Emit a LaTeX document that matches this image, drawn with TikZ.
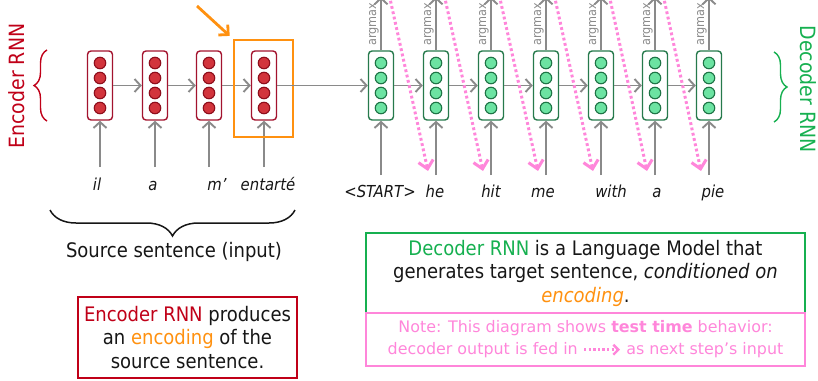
\documentclass[tikz,border=0pt]{standalone}
\usepackage{fontspec}
\setmainfont{DejaVu Sans Condensed}
\newfontfamily\notefont{DejaVu Sans}
\usetikzlibrary{arrows.meta,decorations.pathreplacing}

\definecolor{encred}{HTML}{C00018}
\definecolor{encborder}{HTML}{A3132E}
\definecolor{encdotf}{HTML}{D2343C}
\definecolor{encdotb}{HTML}{8E0E1C}
\definecolor{decgreen}{HTML}{16B050}
\definecolor{decborder}{HTML}{267A4C}
\definecolor{decdotf}{HTML}{6CE3A2}
\definecolor{decdotb}{HTML}{1E7446}
\definecolor{hiorange}{HTML}{FF9110}
\definecolor{feedpink}{HTML}{FF86DA}
\definecolor{flowgray}{HTML}{8A8A8A}
\definecolor{ink}{HTML}{161616}

\begin{document}
\begin{tikzpicture}[x=1pt,y=-1pt,
  every node/.style={text=ink},
  cellbase/.style={line width=1.4pt, rounded corners=3.5pt, fill=white,
    minimum width=25pt, minimum height=69pt, inner sep=0pt},
  enccell/.style={cellbase, draw=encborder},
  deccell/.style={cellbase, draw=decborder},
  dotbase/.style={circle, line width=1.1pt, minimum size=11.5pt, inner sep=0pt},
  encdot/.style={dotbase, draw=encdotb, fill=encdotf},
  decdot/.style={dotbase, draw=decdotb, fill=decdotf},
  flow/.style={draw=flowgray, line width=1.9pt,
    -{Straight Barb[length=6pt,width=13pt]}},
  feed/.style={draw=feedpink, line width=3pt, dash pattern=on 2.8pt off 2.6pt,
    -{Straight Barb[length=8pt,width=15pt]}},
  word/.style={font=\itshape\fontsize{16.5}{18}\selectfont, anchor=base},
  amax/.style={rotate=90, anchor=base west, text=flowgray,
    font=\fontsize{12.5}{13}\selectfont, inner sep=0pt},
  sidelab/.style={font=\fontsize{21}{22}\selectfont, inner sep=0pt},
  txtbox/.style={line width=1.5pt, align=center, inner sep=0pt,
    font=\fontsize{20}{23.5}\selectfont}
]
\useasboundingbox (0,0) rectangle (818,380);
\clip (0,0) rectangle (818,380);

% ---------- encoder ----------
\foreach \i/\x in {1/100,2/155,3/209,4/264}{
  \node[enccell] (e\i) at (\x,85.5) {};
  \foreach \j/\dy in {1/-22.5,2/-7.5,3/7.5,4/22.5}
    \node[encdot] (e\i-\j) at ({\x},{85.5+\dy}) {};
  \coordinate (ein\i) at (\x,167);
  \draw[flow] (ein\i) -- (e\i.south);
}
\draw[flow] (e1.east) -- (e2.west);
\draw[flow] (e2.east) -- (e3.west);
\draw[flow] (e3.east) -- (e4.west);

\node[word] (wil) at (97,190) {il};
\node[word] (wa) at (153,190) {a};
\node[word] (wm) at (217,190) {m’};
\node[word] (wentarte) at (268,190) {entarté};

% highlighted final encoder state
\node[draw=hiorange, line width=2.8pt, minimum width=59pt, minimum height=97pt,
  inner sep=0pt] (focus) at (263.5,88.5) {};
\coordinate (pointer) at (197,6);
\draw[hiorange, line width=2.8pt, shorten >=4pt,
  -{Straight Barb[length=7pt,width=14pt]}] (pointer) -- (focus.north west);

% ---------- decoder ----------
\foreach \i/\x in {1/381,2/436,3/491,4/546,5/601,6/655,7/709}{
  \node[deccell] (d\i) at (\x,85.5) {};
  \foreach \j/\dy in {1/-22.5,2/-7.5,3/7.5,4/22.5}
    \node[decdot] (d\i-\j) at ({\x},{85.5+\dy}) {};
  \coordinate (din\i) at (\x,175);
  \coordinate (dout\i) at (\x,-3);
  \draw[flow] (din\i) -- (d\i.south);
  \draw[flow] (d\i.north) -- (dout\i);
  \node[amax] (am\i) at ({\x-5},46) {argmax};
}
\draw[flow] (e4.east) -- (d1.west);
\foreach \i/\k in {1/2,2/3,3/4,4/5,5/6,6/7}
  \draw[flow] (d\i.east) -- (d\k.west);

% generated words fed back as the next input
\foreach \i/\k in {1/2,2/3,3/4,4/5,5/6,6/7}{
  \path (d\i) ++(6,0) coordinate (fs\i);
  \path (d\k) ++(-8,0) coordinate (fe\i);
  \coordinate (ftop\i) at (fs\i |- 0,-15);
  \coordinate (fbot\i) at (fe\i |- 0,171);
  \draw[feed] (ftop\i) -- (fbot\i);
}

\node[word] (wstart) at (380,197) {<START>};
\node[word] (whe) at (435,197) {he};
\node[word] (whit) at (491,197) {hit};
\node[word] (wme) at (543,197) {me};
\node[word] (wwith) at (611,197) {with};
\node[word] (wa2) at (657,197) {a};
\node[word] (wpie) at (713,197) {pie};

% ---------- side labels and braces ----------
\node[sidelab, rotate=90, text=encred] (enclab) at (17,86) {Encoder RNN};
\draw[encred, line width=1.4pt, decorate, decoration={brace, amplitude=13pt}]
  (47,121) -- (47,50);
\node[sidelab, rotate=-90, text=decgreen] (declab) at (808,89) {Decoder RNN};
\draw[decgreen, line width=1.4pt, decorate, decoration={brace, amplitude=13pt}]
  (774,52) -- (774,122);

\draw[ink, line width=1.5pt, decorate, decoration={brace, amplitude=26pt}]
  (295,210) -- (50,210);
\node[font=\fontsize{20}{22}\selectfont] (srclab) at (174,252) {Source sentence (input)};

% ---------- explanation boxes ----------
\node[txtbox, draw=encred, minimum width=219pt, minimum height=81pt]
  (encbox) at (187.5,337.5)
  {\textcolor{encred}{Encoder RNN} produces\\an \textcolor{hiorange}{encoding} of the\\source sentence.};

\node[txtbox, draw=decgreen, minimum width=439pt, minimum height=80pt]
  (decbox) at (585.5,273)
  {\textcolor{decgreen}{Decoder RNN} is a Language Model that\\
   generates target sentence, \textit{conditioned on}\\
   \textit{\textcolor{hiorange}{encoding}}.};

\node[draw=feedpink, line width=1.5pt, minimum width=439pt, minimum height=53pt,
  align=center, inner sep=0pt, text=feedpink,
  font=\notefont\fontsize{15.9}{22}\selectfont]
  (notebox) at (585.5,339.5)
  {Note: This diagram shows \textbf{test time} behavior:\\
   decoder output is fed in
   \tikz[baseline=-0.6ex]\draw[draw=feedpink, line width=2.4pt,
     dash pattern=on 2.4pt off 2.2pt, -{Straight Barb[length=5pt,width=10pt]}]
     (0pt,0pt) -- (36pt,0pt);
   as next step’s input};
\end{tikzpicture}
\end{document}
